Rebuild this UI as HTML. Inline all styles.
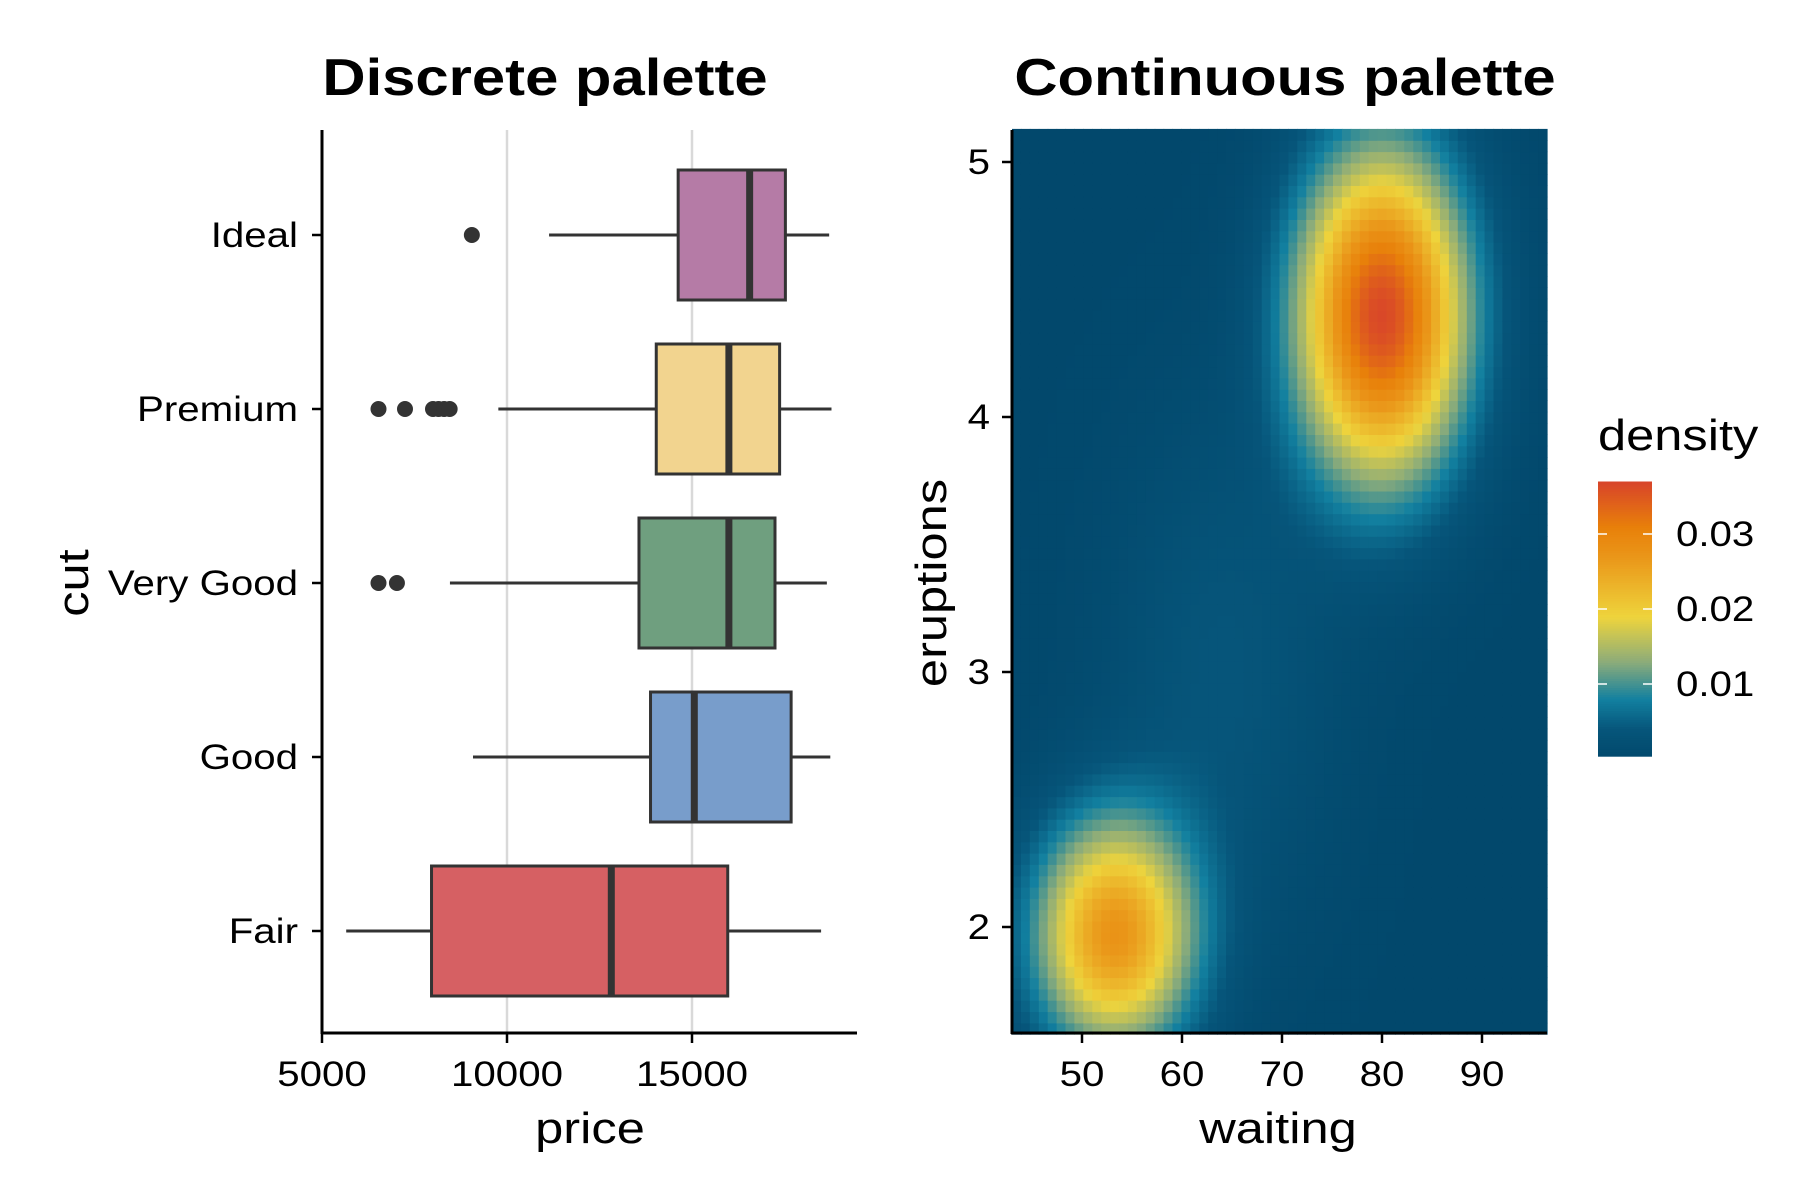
<!DOCTYPE html>
<html><head><meta charset="utf-8"><style>
html,body{margin:0;padding:0;background:#fff;}
svg{display:block;font-family:"Liberation Sans",Arial,sans-serif;}
</style></head><body>
<svg id="chart" width="1800" height="1200" viewBox="0 0 1800 1200">
<g id="left"></g>
<g id="right"></g>
</svg>
<script>
// ---- Boxplot data ----
const cuts = ["Ideal","Premium","Very Good","Good","Fair"];
const whiskerLow = [11137, 9766, 8458, 9081, 5654];
const q1 = [14626, 14034, 13567, 13879, 7960];
const median = [16558, 15997, 15997, 15062, 12819];
const q3 = [17524, 17368, 17243, 17679, 15966];
const whiskerHigh = [18707, 18770, 18645, 18738, 18489];
const outliers = [[9050],[6527,7243,8000,8150,8300,8450],[6527,7025],[],[]];
const cutColors = ["#b57ba6","#f2d48f","#6f9f7f","#789dcb","#d66063"];
const priceTicks = [5000,10000,15000];
// ---- Density data (mixture components) ----
const compWaiting = [80, 53.2, 64];
const compEruptions = [4.4, 1.97, 3.0];
const compSdW = [5.9, 5.6, 8];
const compSdE = [0.45, 0.32, 0.7];
const compPeak = [0.0365, 0.027, 0.004];
const waitingTicks = [50,60,70,80,90];
const eruptionTicks = [2,3,4,5];
const densityTicks = [0.01,0.02,0.03];

const NS="http://www.w3.org/2000/svg";
const SX=1.15;
function mk(parent,tag,attrs,text){const e=document.createElementNS(NS,tag);for(const k in attrs)e.setAttribute(k,attrs[k]);if(text!==undefined)e.textContent=text;parent.appendChild(e);return e;}
function txt(parent,x,y,size,anchor,str,opts){
  opts=opts||{};
  const rot=opts.rot?' rotate(-90)':'';
  const t=mk(parent,'text',{x:0,y:0,'font-size':size,'text-anchor':anchor,transform:'translate('+x+' '+y+')'+rot+' scale('+SX+' 1)'},str);
  if(opts.bold)t.setAttribute('font-weight','bold');
  return t;
}

// ---- Left panel ----
const L=document.getElementById('left');
const px=v=>322+(v-5000)*(370/10000);
const cy=i=>235+i*174;
const t1=txt(L,545,95,52,'middle','Discrete palette',{bold:true});

priceTicks.slice(1).forEach(v=>{const g=mk(L,'line',{x1:px(v),x2:px(v),y1:130,y2:1033,stroke:'#d9d9d9','stroke-width':2.5});
});
cuts.forEach((c,i)=>{
  const y=cy(i);
  const g=mk(L,'g',{});
  
  
  mk(g,'line',{x1:px(whiskerLow[i]),x2:px(q1[i]),y1:y,y2:y,stroke:'#333','stroke-width':3});
  mk(g,'line',{x1:px(q3[i]),x2:px(whiskerHigh[i]),y1:y,y2:y,stroke:'#333','stroke-width':3});
  mk(g,'rect',{x:px(q1[i]),y:y-65,width:px(q3[i])-px(q1[i]),height:130,fill:cutColors[i],stroke:'#333','stroke-width':3});
  mk(g,'line',{x1:px(median[i]),x2:px(median[i]),y1:y-65,y2:y+65,stroke:'#333','stroke-width':7});
  outliers[i].forEach(o=>{const p=mk(g,'circle',{cx:px(o),cy:y,r:8,fill:'#333'});
    });
  const lab=txt(L,298,y+12,35,'end',c);
  
  mk(L,'line',{x1:312,x2:322,y1:y,y2:y,stroke:'#000','stroke-width':2.5});
});
mk(L,'line',{x1:322,x2:322,y1:130,y2:1034,stroke:'#000','stroke-width':3});
mk(L,'line',{x1:321,x2:857,y1:1033,y2:1033,stroke:'#000','stroke-width':3});
priceTicks.forEach(v=>{mk(L,'line',{x1:px(v),x2:px(v),y1:1033,y2:1043,stroke:'#000','stroke-width':2.5});
  const t=txt(L,px(v),1086,35,'middle',String(v));
  });
const xt=txt(L,590,1143,44,'middle','price');

const yt=txt(L,88,583,44,'middle','cut',{rot:true});


// ---- Right panel ----
const R=document.getElementById('right');
const wx=v=>1082+(v-50)*10;
const ey=v=>927-(v-2)*255;
const t2=txt(R,1285,95,52,'middle','Continuous palette',{bold:true});

const stops=[[0,[2,72,108]],[0.004,[6,85,122]],[0.008,[18,128,160]],[0.013,[140,172,122]],[0.019,[238,212,60]],[0.027,[234,150,25]],[0.031,[232,128,10]],[0.037,[216,68,42]]];
function col(d){
  if(d<=stops[0][0])return 'rgb('+stops[0][1]+')';
  for(let i=1;i<stops.length;i++){if(d<=stops[i][0]){const a=stops[i-1],b=stops[i],t=(d-a[0])/(b[0]-a[0]);
    return 'rgb('+a[1].map((c,k)=>Math.round(c+(b[1][k]-c)*t)).join(',')+')';}}
  return 'rgb('+stops[stops.length-1][1]+')';}
function dens(w,e){let s=0;for(let k=0;k<compPeak.length;k++){const dx=(w-compWaiting[k])/compSdW[k],dy=(e-compEruptions[k])/compSdE[k];s+=compPeak[k]*Math.exp(-0.5*(dx*dx+dy*dy));}return s;}
const heat=mk(R,'g',{});


const NX=60,NY=80,w0=43,w1=96.5,e0=1.58,e1=5.13;
const dw=(w1-w0)/NX,de=(e1-e0)/NY;
for(let i=0;i<NX;i++)for(let j=0;j<NY;j++){
  const w=w0+(i+0.5)*dw,e=e0+(j+0.5)*de;
  const x=wx(w0+i*dw),y=ey(e0+(j+1)*de);
  mk(heat,'rect',{x:x.toFixed(1),y:y.toFixed(1),width:(dw*10+0.6).toFixed(1),height:(de*255+0.6).toFixed(1),fill:col(dens(w,e))});
}
mk(R,'line',{x1:1012,x2:1012,y1:130,y2:1034,stroke:'#000','stroke-width':3});
mk(R,'line',{x1:1011,x2:1547,y1:1033,y2:1033,stroke:'#000','stroke-width':3});
waitingTicks.forEach(v=>{mk(R,'line',{x1:wx(v),x2:wx(v),y1:1033,y2:1043,stroke:'#000','stroke-width':2.5});
  const t=txt(R,wx(v),1086,35,'middle',String(v));
  });
eruptionTicks.forEach(v=>{mk(R,'line',{x1:1002,x2:1012,y1:ey(v),y2:ey(v),stroke:'#000','stroke-width':2.5});
  const t=txt(R,990,ey(v)+12,35,'end',String(v));
  });
const xt2=txt(R,1278,1143,44,'middle','waiting');

const yt2=txt(R,946,583,44,'middle','eruptions',{rot:true});

// legend
const lg=mk(R,'g',{});


const LX=1598;
const lt=txt(lg,LX,450,44,'start','density');

const ly=d=>756-(d-0.0004)*(75/0.01);
for(let k=0;k<120;k++){const d0=0.0004+k*(0.037-0.0004)/120,d1=0.0004+(k+1)*(0.037-0.0004)/120;
  mk(lg,'rect',{x:LX,y:ly(d1).toFixed(1),width:54,height:(ly(d0)-ly(d1)+0.7).toFixed(1),fill:col((d0+d1)/2)});}
densityTicks.forEach(d=>{mk(lg,'line',{x1:LX,x2:LX+9,y1:ly(d),y2:ly(d),stroke:'#fff','stroke-width':1.5});
  mk(lg,'line',{x1:LX+45,x2:LX+54,y1:ly(d),y2:ly(d),stroke:'#fff','stroke-width':1.5});
  const t=txt(lg,LX+78,ly(d)+12,35,'start',d.toFixed(2));
  });
</script>
</body></html>
